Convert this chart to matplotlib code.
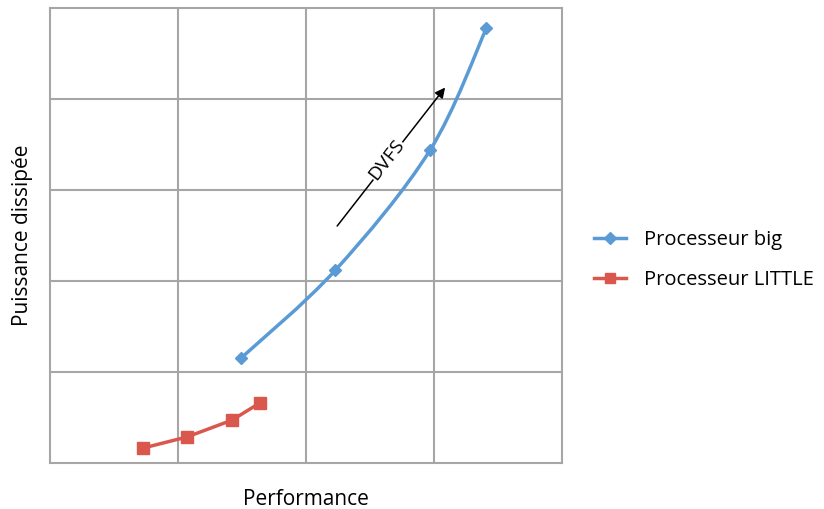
import numpy as np
import matplotlib
matplotlib.use('Agg')
import matplotlib.pyplot as plt
from matplotlib.path import Path
from matplotlib.patches import PathPatch
from matplotlib.lines import Line2D

plt.rcParams['font.family'] = ['Open Sans', 'DejaVu Sans']

# data (arbitrary units)
big_perf = [1.49, 2.23, 2.97, 3.41]
big_power = [1.15, 2.12, 3.44, 4.78]
little_perf = [0.73, 1.07, 1.42, 1.64]
little_power = [0.165, 0.286, 0.47, 0.66]

blue = '#5B9BD5'
red = '#D9574C'
grille = '#A6A6A6'


def courbe_lisse(ax, xs, ys, couleur):
    # Catmull-Rom -> bezier, comme les courbes lissees d'Excel
    pts = np.column_stack([xs, ys])
    n = len(pts)
    verts = [pts[0]]
    codes = [Path.MOVETO]
    for i in range(n - 1):
        p0 = pts[i - 1] if i > 0 else pts[i]
        p1 = pts[i]
        p2 = pts[i + 1]
        p3 = pts[i + 2] if i + 2 < n else pts[i + 1]
        c1 = p1 + (p2 - p0) / 6.0
        c2 = p2 - (p3 - p1) / 6.0
        verts += [c1, c2, p2]
        codes += [Path.CURVE4] * 3
    ax.add_patch(PathPatch(Path(verts, codes), fill=False, edgecolor=couleur, lw=2.5, zorder=3))


fig = plt.figure(figsize=(8.24, 5.09), dpi=100)
ax = fig.add_axes([50 / 824, 1 - 463 / 509, 512 / 824, 455 / 509])

courbe_lisse(ax, big_perf, big_power, blue)
ax.plot(big_perf, big_power, ls='none', marker='D', ms=6, color=blue, zorder=4)
ax.plot(little_perf, little_power, color=red, lw=2.5, marker='s', ms=8, zorder=4)

ax.set_xlim(0, 4)
ax.set_ylim(0, 5)
ax.set_xticks([1, 2, 3])
ax.set_yticks([1, 2, 3, 4])
ax.grid(True, color=grille, lw=1.5)
ax.tick_params(length=0, labelbottom=False, labelleft=False)
for s in ax.spines.values():
    s.set_color(grille)
    s.set_linewidth(1.5)

ax.set_xlabel('Performance', fontsize=15, labelpad=19)
ax.set_ylabel('Puissance dissipée', fontsize=15, labelpad=12)

# fleche DVFS
ax.annotate('', xy=(3.10, 4.15), xytext=(2.23, 2.58),
            arrowprops=dict(arrowstyle='-|>', color='black', lw=1.1, mutation_scale=15))
ax.text(2.63, 3.33, 'DVFS', rotation=52, fontsize=14, ha='center', va='center',
        rotation_mode='anchor', bbox=dict(facecolor='white', edgecolor='none', pad=0.3), zorder=5)

handles = [Line2D([], [], color=blue, lw=2.5, marker='D', ms=6),
           Line2D([], [], color=red, lw=2.5, marker='s', ms=7)]
fig.legend(handles, ['Processeur big', 'Processeur LITTLE'], loc='center left',
           bbox_to_anchor=(576 / 824, 1 - 260 / 509), frameon=False, fontsize=14.5,
           handlelength=1.6, handletextpad=0.9, labelspacing=1.0)

fig.savefig('out.png', dpi=100)
